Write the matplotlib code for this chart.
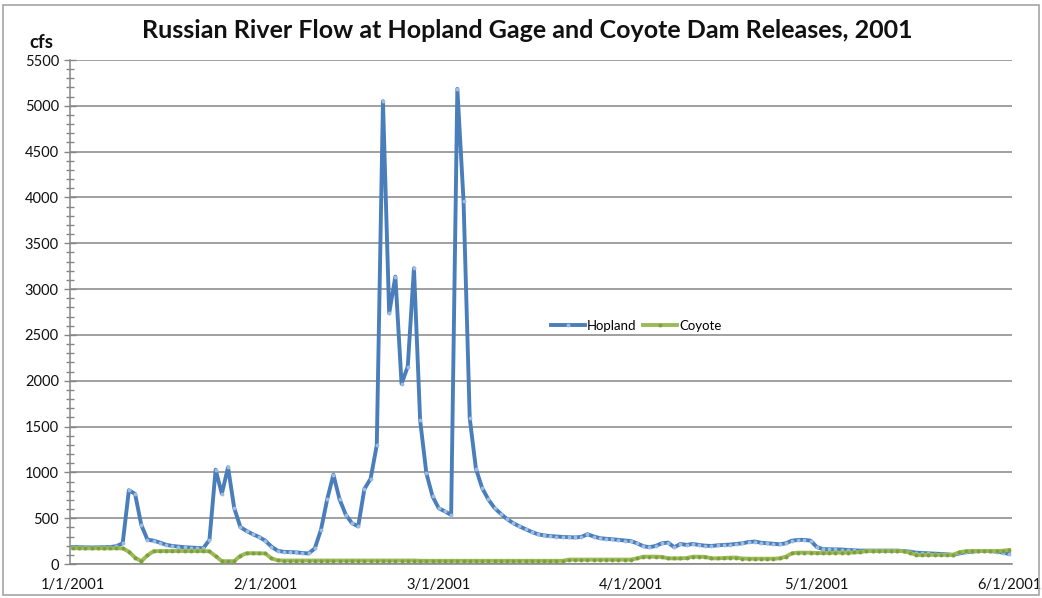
import matplotlib
matplotlib.use("Agg")
import matplotlib.pyplot as plt
from matplotlib.patches import Rectangle
from matplotlib.ticker import MultipleLocator
import pandas as pd

title = "Russian River Flow at Hopland Gage and Coyote Dam Releases, 2001"
y_label = "cfs"
start_date = "2001-01-01"
end_date = "2001-06-01"
tick_dates = ["2001-01-01", "2001-02-01", "2001-03-01", "2001-04-01", "2001-05-01", "2001-06-01"]
tick_labels = ["1/1/2001", "2/1/2001", "3/1/2001", "4/1/2001", "5/1/2001", "6/1/2001"]

hopland = [
    185, 183, 182, 180, 182, 183, 185, 195, 226, 805,
    765, 427, 265, 255, 234, 210, 197, 190, 183, 179,
    175, 172, 263, 1029, 767, 1055, 610, 402, 360, 325,
    295, 255, 190, 145, 133, 130, 127, 120, 115, 170,
    375, 705, 975, 705, 538, 445, 410, 818, 930, 1295,
    5050, 2736, 3136, 1966, 2155, 3227, 1566, 992, 738, 608,
    574, 535, 5185, 3965, 1590, 1040, 830, 705, 611, 549,
    491, 447, 411, 380, 350, 325, 312, 305, 300, 295,
    292, 290, 295, 325, 300, 282, 275, 270, 263, 255,
    250, 226, 195, 183, 197, 226, 234, 183, 219, 208,
    219, 208, 200, 197, 204, 208, 212, 219, 226, 240,
    245, 232, 226, 219, 215, 226, 255, 263, 263, 255,
    185, 162, 161, 161, 158, 153, 150, 146, 146, 146,
    146, 146, 146, 146, 140, 135, 124, 120, 117, 113,
    110, 105, 100, 115, 128, 135, 140, 142, 140, 135,
    125, 110,
]

coyote = [
    172, 172, 170, 172, 172, 170, 172, 172, 170, 135,
    70, 30, 95, 140, 142, 142, 142, 142, 142, 142,
    142, 142, 138, 85, 32, 30, 32, 90, 117, 118,
    117, 115, 62, 40, 38, 38, 38, 38, 38, 38,
    38, 38, 38, 38, 38, 38, 38, 38, 38, 38,
    38, 38, 38, 38, 38, 38, 35, 35, 35, 35,
    35, 35, 35, 35, 35, 35, 35, 35, 35, 35,
    35, 35, 35, 35, 35, 35, 35, 35, 35, 35,
    48, 48, 48, 48, 48, 48, 48, 48, 48, 48,
    48, 62, 80, 80, 80, 78, 62, 62, 62, 65,
    80, 80, 78, 62, 62, 65, 70, 70, 60, 58,
    58, 58, 58, 58, 62, 80, 117, 124, 124, 124,
    120, 120, 122, 124, 124, 124, 126, 130, 142, 142,
    142, 142, 142, 142, 140, 124, 99, 99, 99, 99,
    99, 99, 100, 128, 140, 142, 142, 142, 142, 142,
    145, 153,
]

dates = pd.date_range(start_date, end_date, freq="D")

plt.rcParams['font.family'] = ['Lato', 'DejaVu Sans']

fig = plt.figure(figsize=(10.42, 5.98), dpi=100)
ax = fig.add_axes([70 / 1042, 1 - 564 / 598, 942 / 1042, 504 / 598])

ax.plot(dates, hopland, color="#4A7EBB", lw=2.8, marker="o", ms=2.8,
        mfc="#9CBCE3", mec="#9CBCE3", mew=0, label="Hopland", zorder=3)
ax.plot(dates, coyote, color="#9BBB59", lw=2.8, marker="o", ms=2.8,
        mfc="#7F9F3E", mec="#7F9F3E", mew=0, label="Coyote", zorder=4)

half = pd.Timedelta(hours=12)
ax.set_xlim(dates[0] - half, dates[-1] + half)
ax.set_ylim(0, 5500)

ax.set_xticks([pd.Timestamp(d) for d in tick_dates])
ax.set_xticklabels(tick_labels)
ax.tick_params(axis="x", length=0, pad=10, labelsize=10.5, labelcolor="#111111")

ax.yaxis.set_major_locator(MultipleLocator(500))
ax.yaxis.set_minor_locator(MultipleLocator(100))
ax.tick_params(axis="y", which="major", direction="inout", length=8, width=1,
               color="#868686", labelsize=10.5, labelcolor="#111111", pad=4)
ax.tick_params(axis="y", which="minor", direction="inout", length=6, width=1,
               color="#868686")

ax.grid(axis="y", which="major", color="#868686", lw=1.1)
ax.set_axisbelow(True)
for s in ["top", "right"]:
    ax.spines[s].set_visible(False)
for s in ["left", "bottom"]:
    ax.spines[s].set_color("#868686")
    ax.spines[s].set_linewidth(1.1)

fig.text(527 / 1042, 1 - 31 / 598, title, ha="center", va="center",
         fontsize=18, fontweight="bold", color="#111111")
fig.text(41 / 1042, 1 - 42 / 598, y_label, ha="center", va="center",
         fontsize=13.5, fontweight="bold", color="#111111")

ax.legend(loc="center", bbox_to_anchor=(0.601, 0.472), ncol=2, frameon=False,
          fontsize=9.5, handlelength=2.6, handletextpad=0.15, columnspacing=0.5,
          borderpad=0)

fig.patches.append(Rectangle((3 / 1042, 3 / 598), 1036 / 1042, 590 / 598,
                             transform=fig.transFigure, fill=False,
                             edgecolor="#a6a6a6", lw=1.2))

fig.savefig("out.png", dpi=100, facecolor="white")
